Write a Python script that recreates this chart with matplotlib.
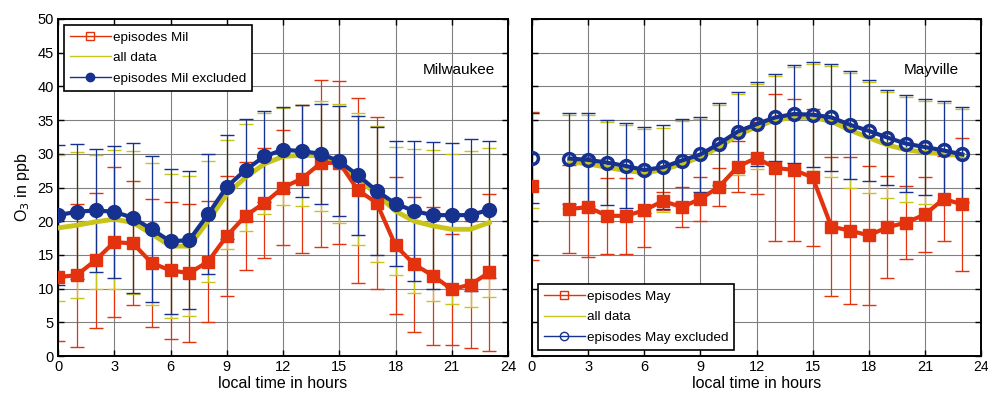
import numpy as np
import matplotlib
matplotlib.use("Agg")
from matplotlib import pyplot as plt
from matplotlib.lines import Line2D

plt.rcParams['font.family'] = ['Liberation Sans', 'DejaVu Sans']

nan = np.nan
hours = np.arange(24)

# Milwaukee
mil_ep = [11.7, 12.0, 14.2, 16.9, 16.7, 13.8, 12.7, 12.3, 14.0, 17.8, 20.8, 22.7,
          25.0, 26.3, 28.6, 28.7, 24.6, 22.7, 16.4, 13.6, 11.9, 9.9, 10.6, 12.4]
mil_ep_sd = [9.5, 10.6, 10.0, 11.1, 9.2, 9.5, 10.2, 10.2, 9.0, 8.9, 8.0, 8.1,
             8.6, 11.0, 12.4, 12.1, 13.7, 12.8, 10.2, 10.0, 10.2, 8.2, 9.4, 11.7]
mil_all = [19.0, 19.4, 19.9, 20.3, 19.8, 18.1, 16.3, 16.3, 20.0, 24.0, 26.5, 28.5,
           29.6, 29.8, 29.7, 28.6, 26.3, 24.0, 21.5, 20.0, 19.3, 18.8, 18.8, 19.8]
mil_all_sd = [10.8, 10.8, 9.9, 10.3, 10.6, 10.5, 10.7, 10.4, 9.0, 8.1, 7.9, 7.5,
              7.2, 7.5, 8.2, 8.8, 9.8, 10.1, 9.5, 10.7, 11.2, 11.1, 11.6, 11.1]
mil_excl = [20.9, 21.4, 21.6, 21.4, 20.5, 18.8, 17.0, 17.2, 21.0, 25.1, 27.6, 29.6,
            30.6, 30.4, 30.0, 28.9, 26.8, 24.5, 22.6, 21.5, 20.9, 20.9, 20.9, 21.7]
mil_excl_sd = [10.4, 10.0, 9.1, 9.8, 11.1, 10.8, 10.8, 10.3, 8.9, 7.7, 7.6, 6.8,
               6.3, 6.8, 7.4, 8.2, 8.8, 9.5, 9.3, 10.4, 10.9, 10.7, 11.3, 10.2]

# Mayville (no data at hour 1)
may_ep = [25.2, nan, 21.8, 22.1, 20.8, 20.8, 21.6, 23.0, 22.1, 23.3, 25.1, 28.1,
          29.4, 27.9, 27.6, 26.5, 19.2, 18.6, 17.9, 19.1, 19.8, 21.0, 23.3, 22.5]
may_ep_sd = [11.0, nan, 6.5, 7.4, 5.6, 5.6, 5.4, 1.4, 3.0, 3.2, 2.8, 3.8,
             5.3, 10.9, 10.5, 10.2, 10.3, 10.9, 10.3, 7.6, 5.4, 5.5, 6.3, 9.9]
may_all = [29.0, nan, 28.8, 28.5, 28.0, 27.5, 27.2, 27.6, 28.5, 29.5, 31.0, 32.8,
           34.0, 35.0, 35.4, 35.4, 34.8, 33.5, 32.4, 31.3, 30.6, 30.2, 30.0, 29.7]
may_all_sd = [7.0, nan, 6.9, 7.2, 6.7, 6.7, 6.5, 6.3, 6.3, 5.6, 6.3, 6.0,
              6.3, 6.6, 7.5, 7.9, 8.2, 8.5, 8.2, 7.9, 7.8, 7.6, 7.5, 7.0]
may_excl = [29.4, nan, 29.3, 29.1, 28.7, 28.2, 27.6, 28.0, 29.0, 29.9, 31.5, 33.3,
            34.4, 35.4, 35.9, 35.8, 35.4, 34.3, 33.4, 32.4, 31.5, 31.0, 30.5, 29.9]
may_excl_sd = [6.7, nan, 6.7, 6.9, 6.3, 6.3, 6.4, 6.2, 6.1, 5.5, 6.1, 5.8,
               6.2, 6.5, 7.3, 7.8, 7.9, 8.0, 7.5, 7.1, 7.2, 7.1, 7.3, 7.1]

RED = '#e3330e'
YEL = '#c8c41a'
BLUE = '#17318f'


def panel(ax, ep, ep_sd, alld, all_sd, excl, excl_sd, site, short, hollow, legloc):
    for m, s, c in [(ep, ep_sd, RED), (alld, all_sd, YEL), (excl, excl_sd, BLUE)]:
        ax.errorbar(hours, m, yerr=s, fmt='none', ecolor=c, elinewidth=0.9,
                    capsize=5, capthick=1.0, zorder=2)
    ax.plot(hours, alld, color=YEL, lw=3.5, zorder=3)
    ax.plot(hours, ep, color=RED, lw=3, marker='s', ms=8.5, mfc=RED, mec=RED, zorder=4)
    mfc = 'none' if hollow else BLUE
    ax.plot(hours, excl, color=BLUE, lw=3, marker='o', ms=8.5, mfc=mfc, mec=BLUE,
            mew=2.5, zorder=5)

    ax.set_xlim(0, 24)
    ax.set_ylim(0, 50)
    ax.set_xticks(np.arange(0, 25, 3))
    ax.set_yticks(np.arange(0, 51, 5))
    ax.grid(True, color='0.5', lw=0.8)
    ax.set_axisbelow(True)
    ax.tick_params(direction='in', top=True, right=True, length=4, width=1,
                   labelsize=10.5, pad=3)
    for sp in ax.spines.values():
        sp.set_linewidth(1.4)
    ax.set_xlabel('local time in hours', fontsize=11.5, labelpad=1)
    ax.text(0.89, 0.85, site, transform=ax.transAxes, ha='center', va='center',
            fontsize=11)

    handles = [
        Line2D([], [], color=RED, lw=1, marker='s', ms=6, mfc='none', mec=RED),
        Line2D([], [], color=YEL, lw=1),
        Line2D([], [], color=BLUE, lw=1, marker='o', ms=6,
               mfc='none' if hollow else BLUE, mec=BLUE),
    ]
    labels = ['episodes %s' % short, 'all data', 'episodes %s excluded' % short]
    leg = ax.legend(handles, labels, loc=legloc, fontsize=9.7, fancybox=False,
                    framealpha=1, edgecolor='black', handlelength=3.0,
                    handletextpad=0.15, borderpad=0.45, labelspacing=0.6,
                    borderaxespad=0.45)
    leg.get_frame().set_linewidth(1.2)


fig = plt.figure(figsize=(9.88, 3.93), dpi=100)
ax1 = fig.add_axes([58 / 988, 37 / 393, 450 / 988, 337 / 393])
ax2 = fig.add_axes([532 / 988, 37 / 393, 449 / 988, 337 / 393])

panel(ax1, mil_ep, mil_ep_sd, mil_all, mil_all_sd, mil_excl, mil_excl_sd,
      'Milwaukee', 'Mil', False, 'upper left')
panel(ax2, may_ep, may_ep_sd, may_all, may_all_sd, may_excl, may_excl_sd,
      'Mayville', 'May', True, 'lower left')

ax1.set_ylabel('O$_3$ in ppb', fontsize=11.5, labelpad=4)
ax2.tick_params(labelleft=False)
ax2.get_xticklabels()[-1].set_fontsize(10)

fig.savefig('out.png', dpi=100)
plt.close(fig)
